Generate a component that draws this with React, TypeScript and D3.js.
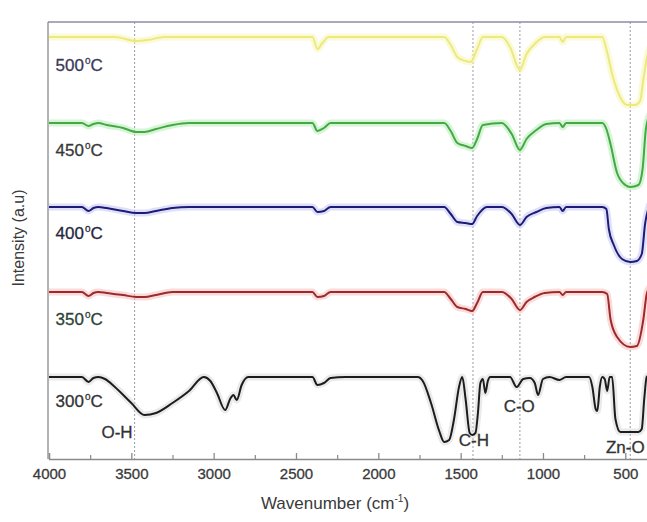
import React, { useEffect, useRef } from 'react';
import * as d3 from 'd3';

// FTIR spectra of ZnO calcined at different temperatures

const width = 647;
const height = 522;
const plot = { left: 49, right: 650, top: 22, bottom: 459 };

const xDomain = [4000, 350];
const yDomain = [0, 437]; // intensity, arbitrary units (stacked offsets)

const majorTicks = [4000, 3500, 3000, 2500, 2000, 1500, 1000, 500];
const minorTicks = [3750, 3250, 2750, 2250, 1750, 1250, 750];
const bandLines = [3480, 1425, 1140, 470];

// [wavenumber, intensity]
const s500 = [
  [4000, 422], [3600, 422], [3470, 418], [3400, 419], [3300, 422], [2400, 422],
  [2370, 410], [2340, 416], [2300, 422], [1600, 422], [1560, 414], [1520, 402],
  [1470, 398], [1440, 397], [1400, 410], [1365, 422], [1250, 422], [1200, 412],
  [1140, 389], [1100, 405], [1050, 415], [990, 422], [900, 422], [880, 417],
  [860, 422], [640, 422], [615, 410], [580, 385], [540, 365], [490, 354],
  [440, 354], [410, 358], [390, 380], [370, 400], [350, 412],
];

const s450 = [
  [4000, 336], [3800, 336], [3760, 333], [3730, 335], [3700, 336], [3650, 334],
  [3550, 331], [3470, 327], [3420, 327], [3350, 330], [3250, 334], [3150, 336],
  [2400, 336], [2370, 328], [2330, 331], [2290, 336], [1600, 336], [1560, 328],
  [1520, 316], [1470, 313], [1430, 311], [1400, 320], [1365, 334], [1250, 336],
  [1190, 325], [1140, 309], [1100, 320], [1040, 329], [980, 335], [900, 336],
  [880, 332], [860, 336], [640, 336], [615, 330], [590, 315], [550, 286],
  [500, 274], [470, 272], [420, 274], [395, 290], [375, 330], [350, 345],
];

const s400 = [
  [4000, 252], [3800, 252], [3760, 248], [3730, 251], [3700, 252], [3650, 251],
  [3550, 248], [3470, 246], [3420, 246], [3350, 248], [3250, 251], [3150, 252],
  [2400, 252], [2370, 247], [2330, 248], [2290, 252], [1600, 252], [1560, 245],
  [1520, 237], [1470, 236], [1430, 235], [1400, 243], [1340, 252], [1250, 252],
  [1190, 245], [1140, 234], [1100, 242], [1040, 247], [980, 251], [900, 252],
  [880, 248], [860, 252], [640, 252], [615, 250], [600, 230], [570, 214],
  [520, 200], [470, 197], [430, 198], [400, 205], [380, 235], [350, 255],
];

const s350 = [
  [4000, 167], [3800, 167], [3760, 163], [3730, 166], [3700, 167], [3650, 166],
  [3550, 164], [3470, 162], [3420, 162], [3350, 164], [3250, 167], [2400, 167],
  [2370, 162], [2330, 163], [2290, 167], [1600, 167], [1560, 160], [1520, 152],
  [1470, 150], [1430, 148], [1400, 156], [1365, 167], [1250, 167], [1190, 160],
  [1140, 149], [1100, 157], [1050, 162], [990, 166], [900, 167], [880, 164],
  [860, 167], [640, 167], [610, 165], [590, 140], [550, 122], [470, 112],
  [430, 113], [390, 140], [370, 165], [350, 172],
];

const s300 = [
  [4000, 82], [3800, 82], [3760, 77], [3730, 81], [3700, 82], [3660, 80],
  [3600, 72], [3500, 56], [3420, 44], [3350, 46], [3250, 56], [3150, 68],
  [3060, 82], [3020, 78], [2980, 66], [2930, 49], [2900, 60], [2880, 64],
  [2860, 59], [2830, 74], [2790, 82], [2400, 82], [2370, 74], [2330, 76],
  [2290, 81], [2200, 82], [1760, 82], [1730, 78], [1680, 56], [1630, 28],
  [1600, 17], [1570, 19], [1540, 40], [1510, 72], [1490, 82], [1470, 60],
  [1445, 26], [1430, 24], [1410, 26], [1395, 46], [1380, 76], [1365, 80],
  [1350, 66], [1335, 78], [1320, 82], [1200, 82], [1160, 72], [1120, 80],
  [1080, 81], [1050, 76], [1030, 64], [1000, 80], [960, 82], [900, 79],
  [860, 82], [720, 82], [700, 72], [680, 50], [670, 48], [655, 72], [640, 82],
  [625, 80], [610, 68], [595, 82], [580, 82], [560, 40], [530, 27], [500, 27],
  [420, 27], [400, 30], [385, 60], [370, 82], [350, 84],
];

const seriesNames = ['500°C', '450°C', '400°C', '350°C', '300°C'];
const seriesData = [s500, s450, s400, s350, s300];
const lineColors = ['#ece97e', '#45a845', '#1c1c78', '#9c2a2a', '#1c1c1c'];
const glowColors = ['#f8f5b0', '#aeecae', '#c0c0f0', '#f6b8b8', '#d6d6d6'];
const labelColors = ['#3a3a58', '#383838', '#262640', '#2c4438', '#333333'];
// label position: [wavenumber of left edge, intensity of baseline]
const labelPos = [[3960, 388], [3960, 303], [3960, 220], [3960, 134], [3960, 52]];

const bandNames = ['O-H', 'C-H', 'C-O', 'Zn-O'];
const bandLabelPos = [[3587, 21], [1420, 13], [1144, 47], [500, 6]];

const App = () => {
  const axisRef = useRef<SVGGElement>(null);

  const x = d3.scaleLinear().domain(xDomain).range([plot.left, plot.right]);
  const y = d3.scaleLinear().domain(yDomain).range([plot.bottom, plot.top]);

  const line = d3
    .line<number[]>()
    .x((d) => x(d[0]))
    .y((d) => y(d[1]))
    .curve(d3.curveMonotoneX);

  useEffect(() => {
    const g = d3.select(axisRef.current);
    g.selectAll('*').remove();

    const major = g
      .append('g')
      .attr('transform', `translate(0,${plot.bottom})`)
      .call(d3.axisBottom(x).tickValues(majorTicks).tickSize(-6).tickPadding(9).tickFormat(d3.format('d')));
    major.select('.domain').attr('stroke', '#8a8a8a').attr('stroke-width', 1.3);
    major.selectAll('.tick line').attr('stroke', '#8a8a8a').attr('stroke-width', 1.3);
    major
      .selectAll('.tick text')
      .attr('fill', '#3a3a3a')
      .attr('stroke', '#3a3a3a')
      .attr('stroke-width', 0.3)
      .style('font-size', '15px')
      .style('font-family', 'Arial, "Liberation Sans", sans-serif');

    const minor = g
      .append('g')
      .attr('transform', `translate(0,${plot.bottom})`)
      .call(d3.axisBottom(x).tickValues(minorTicks).tickSize(-4).tickFormat(() => ''));
    minor.select('.domain').remove();
    minor.selectAll('.tick line').attr('stroke', '#8a8a8a').attr('stroke-width', 1.2);
  }, []);

  const font = 'Arial, "Liberation Sans", sans-serif';

  return (
    <div style={{ position: 'fixed', left: 0, top: 0, background: '#fff' }}>
      <svg width={width} height={height} style={{ display: 'block' }}>
        <rect width={width} height={height} fill="#fff" />

        {/* band reference lines */}
        {bandLines.map((b) => (
          <line
            key={b}
            x1={x(b)}
            x2={x(b)}
            y1={plot.top}
            y2={plot.bottom}
            stroke="#9a9aa6"
            strokeWidth={1}
            strokeDasharray="2,2"
          />
        ))}

        {/* frame */}
        <line x1={plot.left - 1} x2={width} y1={plot.top} y2={plot.top} stroke="#8c8ca0" strokeWidth={1.4} />
        <line x1={plot.left - 1} x2={plot.left - 1} y1={plot.top} y2={plot.bottom} stroke="#8a8a8a" strokeWidth={1.3} />

        {/* spectra */}
        {seriesData.map((s, i) => (
          <g key={seriesNames[i]}>
            <path d={line(s) || ''} fill="none" stroke={glowColors[i]} strokeWidth={7} strokeOpacity={0.5} strokeLinejoin="round" />
            <path d={line(s) || ''} fill="none" stroke={lineColors[i]} strokeWidth={2} strokeLinejoin="round" />
          </g>
        ))}

        {/* series labels */}
        {seriesNames.map((n, i) => (
          <text
            key={n}
            x={x(labelPos[i][0])}
            y={y(labelPos[i][1])}
            fill={labelColors[i]}
            stroke={labelColors[i]}
            strokeWidth={0.3}
            style={{ fontSize: 17, fontFamily: font }}
          >
            {n.replace('°C', '')}
            <tspan dx={1} dy={-7} style={{ fontSize: 10 }}>o</tspan>
            <tspan dy={7}>C</tspan>
          </text>
        ))}

        {/* band labels */}
        {bandNames.map((n, i) => (
          <text
            key={n}
            x={x(bandLabelPos[i][0])}
            y={y(bandLabelPos[i][1])}
            textAnchor="middle"
            fill="#333"
            stroke="#333"
            strokeWidth={0.3}
            style={{ fontSize: 17, fontFamily: font }}
          >
            {n}
          </text>
        ))}

        <g ref={axisRef} />

        {/* axis titles */}
        <text
          x={335}
          y={509}
          textAnchor="middle"
          fill="#3a3a3a"
          style={{ fontSize: 17, fontFamily: font }}
        >
          Wavenumber (cm
          <tspan dy={-7} style={{ fontSize: 10 }}>-1</tspan>
          <tspan dy={7}>)</tspan>
        </text>
        <text
          transform="translate(24,238) rotate(-90)"
          textAnchor="middle"
          fill="#3a3a3a"
          style={{ fontSize: 16, fontFamily: font }}
        >
          Intensity (a.u)
        </text>
      </svg>
    </div>
  );
};

export default App;
